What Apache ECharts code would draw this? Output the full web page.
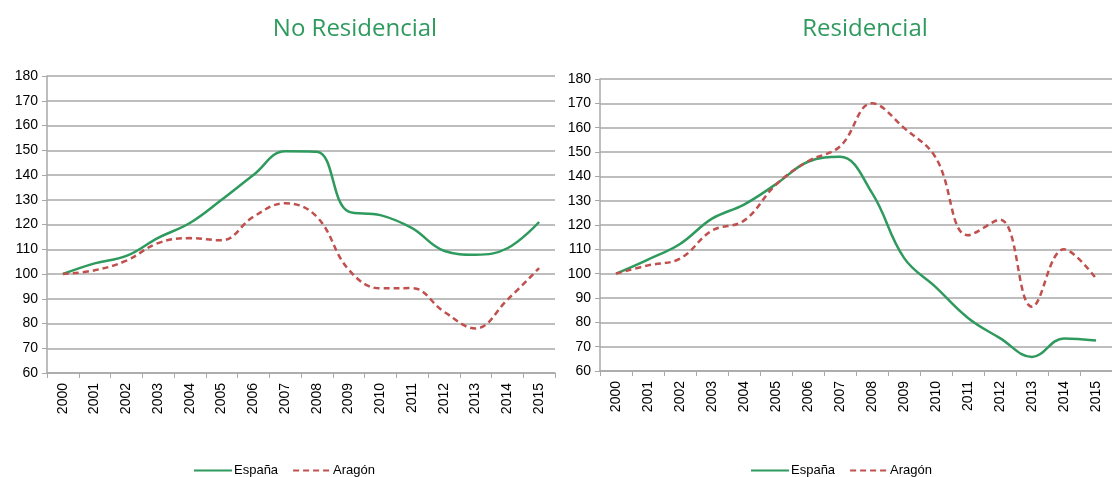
<!DOCTYPE html>
<html>
<head>
<meta charset="utf-8">
<script src="https://cdn.jsdelivr.net/npm/echarts@6/dist/echarts.min.js"></script>
<style>
  html, body { margin: 0; padding: 0; background: #fff; }
  #main { width: 1112px; height: 477px; }
</style>
</head>
<body>
<div id="main"></div>
<script>
var years = ['2000','2001','2002','2003','2004','2005','2006','2007','2008','2009','2010','2011','2012','2013','2014','2015'];

// No Residencial
var noResEspana = [100, 104.3, 107.3, 114.6, 120.6, 130, 140, 149.6, 149.4, 125.2, 123.8, 118.5, 109.4, 107.8, 110.4, 121];
var noResAragon = [100, 101.5, 105.4, 112.5, 114.5, 113.6, 123.1, 128.6, 123.1, 101.8, 94.2, 94.3, 84.8, 78, 89.6, 102.4];

// Residencial
var resEspana = [100, 105.8, 112.2, 122.6, 128.4, 136.8, 146, 148, 133.2, 106.5, 94.4, 81.8, 73.5, 65.8, 73.4, 72.5];
var resAragon = [100, 103.4, 106.2, 117.7, 121.8, 136.6, 146.2, 152.3, 170, 159.9, 147.5, 115.8, 122.2, 86.4, 110, 98];

var green = '#2f9a5e';
var red = '#c0504d';
var gridGray = '#a8a8a8';
var font = 'Liberation Sans';

function yAxis(idx) {
  return {
    type: 'value', gridIndex: idx, min: 60, max: 180, interval: 10,
    axisLine: { show: true, lineStyle: { color: gridGray, width: 1.5 } },
    axisTick: { show: true, length: 5, lineStyle: { color: gridGray } },
    axisLabel: { color: '#000', fontSize: 14, fontFamily: font, margin: 9 },
    splitLine: { lineStyle: { color: gridGray, width: 1.5 } }
  };
}
function xAxis(idx) {
  return {
    type: 'category', gridIndex: idx, data: years, boundaryGap: true,
    axisLine: { lineStyle: { color: gridGray, width: 1.5 } },
    axisTick: { show: true, length: 5, lineStyle: { color: gridGray } },
    axisLabel: { color: '#000', fontSize: 14, fontFamily: font, rotate: 90, interval: 0, margin: 10 }
  };
}
function line(name, idx, data, color, dashed) {
  return {
    name: name, type: 'line', xAxisIndex: idx, yAxisIndex: idx, data: data,
    smooth: 0.4, showSymbol: false, symbol: 'none',
    lineStyle: { color: color, width: 2.5, type: dashed ? [6, 4] : 'solid' },
    itemStyle: { color: color }
  };
}
function legend(left) {
  return {
    left: left, top: 459, itemWidth: 38, itemHeight: 10, itemGap: 14,
    data: ['España', 'Aragón'],
    itemStyle: { opacity: 0 },
    textStyle: { fontSize: 13, fontFamily: font, color: '#000', padding: [0, 0, 0, -3] }
  };
}

var chart = echarts.init(document.getElementById('main'));
chart.setOption({
  backgroundColor: '#fff',
  animation: false,
  title: [
    { text: 'No Residencial', left: 350, top: 12, textAlign: 'center',
      textStyle: { color: green, fontSize: 24, fontWeight: 'normal', fontFamily: 'Open Sans' } },
    { text: 'Residencial', left: 860, top: 12, textAlign: 'center',
      textStyle: { color: green, fontSize: 24, fontWeight: 'normal', fontFamily: 'Open Sans' } }
  ],
  legend: [legend(188), legend(745)],
  grid: [
    { left: 47, width: 508, top: 76, height: 297 },
    { left: 600, width: 521, top: 79, height: 292 }
  ],
  xAxis: [xAxis(0), xAxis(1)],
  yAxis: [yAxis(0), yAxis(1)],
  series: [
    line('España', 0, noResEspana, green, false),
    line('Aragón', 0, noResAragon, red, true),
    line('España', 1, resEspana, green, false),
    line('Aragón', 1, resAragon, red, true)
  ]
});
</script>
</body>
</html>
